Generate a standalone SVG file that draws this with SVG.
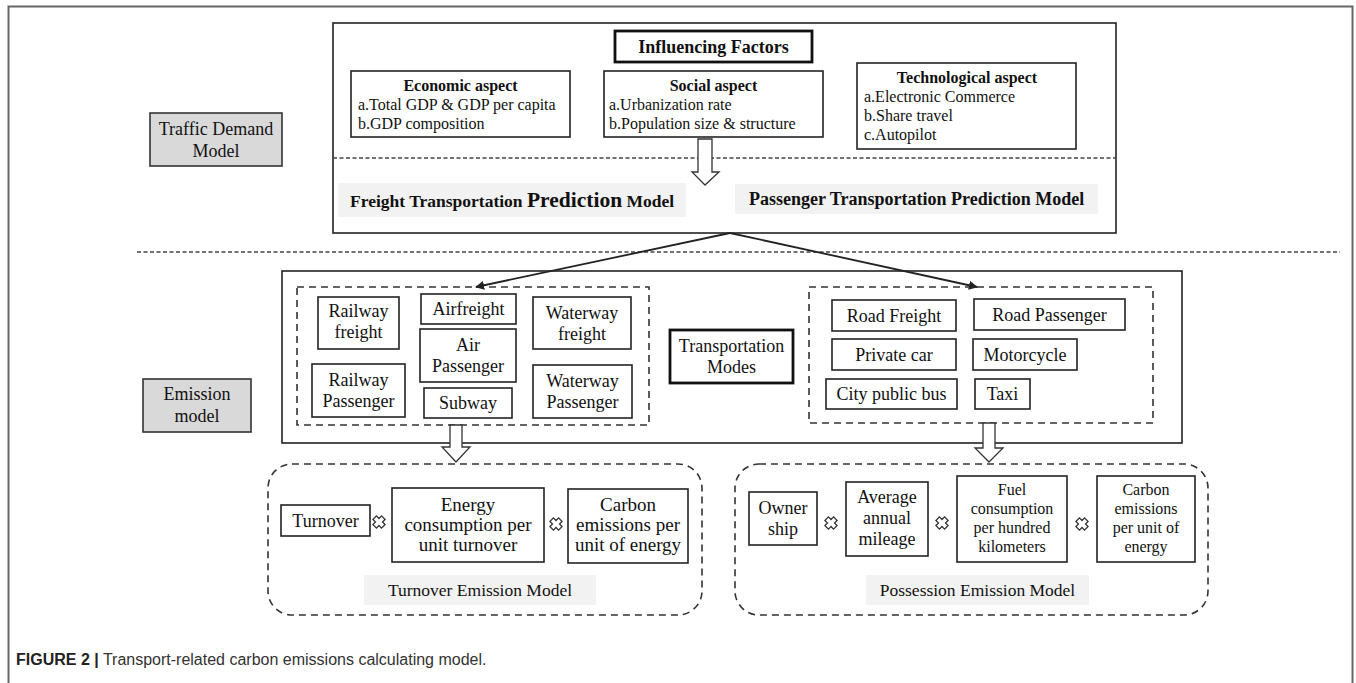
<svg xmlns="http://www.w3.org/2000/svg" width="1356" height="683" viewBox="0 0 1356 683">
<style>
.box{fill:#fff;stroke:#222;stroke-width:1.6}
.thick{fill:#fff;stroke:#111;stroke-width:2.8}
.gray{fill:#d9d9d9;stroke:#333;stroke-width:1.6}
.bg{fill:#f2f2f2;stroke:none}
.dash{fill:none;stroke:#333;stroke-width:1.6;stroke-dasharray:7 5}
.dline{fill:none;stroke:#444;stroke-width:1.4;stroke-dasharray:4 2.5}
.conn{fill:none;stroke:#222;stroke-width:1.8}
.hollow{fill:#fff;stroke:#333;stroke-width:1.3}
.mul{fill:none;stroke:#333;stroke-width:0.8}
.t{font-family:"Liberation Serif","Times New Roman",serif;fill:#111;font-size:18px}
.c{text-anchor:middle}
.b{font-weight:bold}
.s16{font-size:16px}
.s17{font-size:17.5px}
.s19{font-size:19px}
.cap{font-family:"Liberation Sans",Arial,sans-serif;font-size:16px;fill:#333}
</style>
<defs>
<marker id="ah" viewBox="0 0 10 10" refX="9" refY="5" markerWidth="5" markerHeight="5" orient="auto" markerUnits="strokeWidth">
<path d="M0,0 L10,5 L0,10 z" fill="#222"/>
</marker>
<path id="mulsym" class="mul" d="M-1.6,-3.8 L0,-2.2 L1.6,-3.8 L3.8,-1.6 L2.2,0 L3.8,1.6 L1.6,3.8 L0,2.2 L-1.6,3.8 L-3.8,1.6 L-2.2,0 L-3.8,-1.6 Z" transform="scale(1.6)"/>
</defs>

<g id="frame"><path d="M8.5,683 V6.5 H1352.5 V683" fill="none" stroke="#666" stroke-width="2"/></g>

<g id="traffic-demand-model">
<rect class="gray" x="150" y="113" width="132" height="53"/>
<text class="t c" x="216" y="135">Traffic Demand</text>
<text class="t c" x="216" y="157">Model</text>
</g>
<g id="emission-model">
<rect class="gray" x="143" y="379" width="108" height="53"/>
<text class="t c" x="197" y="400">Emission</text>
<text class="t c" x="197" y="422">model</text>
</g>

<g id="separator"><line class="dline" x1="137" y1="252" x2="1340" y2="252"/></g>

<g id="traffic-demand-box">
<rect class="box" x="333" y="23" width="783" height="210"/>
<line class="dline" x1="333" y1="158" x2="1116" y2="158"/>
</g>
<g id="influencing-factors">
<rect class="thick" x="615" y="31" width="197" height="31"/>
<text class="t c b" x="713.5" y="53">Influencing Factors</text>
</g>
<g id="economic-aspect">
<rect class="box" x="351" y="71" width="219" height="66"/>
<text class="t c b s16" x="460.5" y="91">Economic aspect</text>
<text class="t s16" x="358" y="110">a.Total GDP &amp; GDP per capita</text>
<text class="t s16" x="358" y="129">b.GDP composition</text>
</g>
<g id="social-aspect">
<rect class="box" x="604" y="71" width="219" height="66"/>
<text class="t c b s16" x="713.5" y="91">Social aspect</text>
<text class="t s16" x="609" y="110">a.Urbanization rate</text>
<text class="t s16" x="609" y="129">b.Population size &amp; structure</text>
</g>
<g id="technological-aspect">
<rect class="box" x="857" y="63" width="219" height="86"/>
<text class="t c b s16" x="967" y="83">Technological aspect</text>
<text class="t s16" x="864" y="102">a.Electronic Commerce</text>
<text class="t s16" x="864" y="121">b.Share travel</text>
<text class="t s16" x="864" y="140">c.Autopilot</text>
</g>
<g id="freight-prediction">
<rect class="bg" x="338" y="183" width="348" height="34"/>
<text class="t b" x="350" y="207" style="font-size:17.5px">Freight Transportation <tspan style="font-size:21.5px">Prediction</tspan> Model</text>
</g>
<g id="passenger-prediction">
<rect class="bg" x="735" y="184" width="363" height="30"/>
<text class="t b" x="749" y="205">Passenger Transportation Prediction Model</text>
</g>

<g id="emission-box"><rect class="box" x="282" y="271" width="900" height="172"/></g>

<g id="transportation-modes">
<rect class="thick" x="670" y="330" width="123" height="53"/>
<text class="t c" x="731.5" y="352">Transportation</text>
<text class="t c" x="731.5" y="373">Modes</text>
</g>

<g id="left-modes-group"><rect class="dash" x="297" y="287" width="352" height="138"/></g>
<g id="railway-freight"><rect class="box" x="318" y="297" width="81" height="52"/>
<text class="t c" x="358.5" y="317">Railway</text><text class="t c" x="358.5" y="338">freight</text></g>
<g id="airfreight"><rect class="box" x="421" y="294" width="95" height="30"/>
<text class="t c" x="468.5" y="315">Airfreight</text></g>
<g id="waterway-freight"><rect class="box" x="533" y="297" width="98" height="52"/>
<text class="t c" x="582" y="319">Waterway</text><text class="t c" x="582" y="340">freight</text></g>
<g id="air-passenger"><rect class="box" x="420" y="329" width="96" height="53"/>
<text class="t c" x="468" y="351">Air</text><text class="t c" x="468" y="372">Passenger</text></g>
<g id="railway-passenger"><rect class="box" x="312" y="364" width="93" height="53"/>
<text class="t c" x="358.5" y="386">Railway</text><text class="t c" x="358.5" y="407">Passenger</text></g>
<g id="subway"><rect class="box" x="424" y="388" width="88" height="30"/>
<text class="t c" x="468" y="409">Subway</text></g>
<g id="waterway-passenger"><rect class="box" x="533" y="365" width="99" height="53"/>
<text class="t c" x="582.5" y="387">Waterway</text><text class="t c" x="582.5" y="408">Passenger</text></g>

<g id="right-modes-group"><rect class="dash" x="809" y="287" width="344" height="136"/></g>
<g id="road-freight"><rect class="box" x="832" y="300" width="124" height="31"/>
<text class="t c" x="894" y="322">Road Freight</text></g>
<g id="road-passenger"><rect class="box" x="974" y="299" width="151" height="31"/>
<text class="t c" x="1049.5" y="321">Road Passenger</text></g>
<g id="private-car"><rect class="box" x="832" y="339" width="124" height="31"/>
<text class="t c" x="894" y="361">Private car</text></g>
<g id="motorcycle"><rect class="box" x="973" y="339" width="104" height="31"/>
<text class="t c" x="1025" y="361">Motorcycle</text></g>
<g id="city-public-bus"><rect class="box" x="826" y="379" width="131" height="30"/>
<text class="t c" x="891.5" y="400">City public bus</text></g>
<g id="taxi"><rect class="box" x="975" y="379" width="55" height="30"/>
<text class="t c" x="1002.5" y="400">Taxi</text></g>

<g id="turnover-emission-model">
<rect class="dash" x="268" y="464" width="434" height="151" rx="24"/>
<rect class="bg" x="364" y="575" width="232" height="30"/>
<text class="t c s17" x="480" y="596">Turnover Emission Model</text>
</g>
<g id="turnover"><rect class="box" x="281" y="505" width="89" height="31"/>
<text class="t c" x="325.5" y="527">Turnover</text></g>
<g id="energy-consumption"><rect class="box" x="392" y="488" width="152" height="74"/>
<text class="t c s19" x="468" y="511">Energy</text>
<text class="t c s19" x="468" y="531">consumption per</text>
<text class="t c s19" x="468" y="551">unit turnover</text></g>
<g id="carbon-emissions-1"><rect class="box" x="568" y="489" width="120" height="74"/>
<text class="t c s19" x="628" y="511">Carbon</text>
<text class="t c s19" x="628" y="531">emissions per</text>
<text class="t c s19" x="628" y="551">unit of energy</text></g>

<g id="possession-emission-model">
<rect class="dash" x="735" y="464" width="473" height="151" rx="24"/>
<rect class="bg" x="866" y="575" width="223" height="30"/>
<text class="t c s17" x="977.5" y="596">Possession Emission Model</text>
</g>
<g id="ownership"><rect class="box" x="749" y="492" width="68" height="53"/>
<text class="t c" x="783" y="514">Owner</text><text class="t c" x="783" y="535">ship</text></g>
<g id="average-annual-mileage"><rect class="box" x="846" y="482" width="82" height="74"/>
<text class="t c" x="887" y="503">Average</text>
<text class="t c" x="887" y="524">annual</text>
<text class="t c" x="887" y="545">mileage</text></g>
<g id="fuel-consumption"><rect class="box" x="957" y="476" width="110" height="86"/>
<text class="t c s16" x="1012" y="495">Fuel</text>
<text class="t c s16" x="1012" y="514">consumption</text>
<text class="t c s16" x="1012" y="533">per hundred</text>
<text class="t c s16" x="1012" y="552">kilometers</text></g>
<g id="carbon-emissions-2"><rect class="box" x="1097" y="476" width="98" height="86"/>
<text class="t c s16" x="1146" y="495">Carbon</text>
<text class="t c s16" x="1146" y="514">emissions</text>
<text class="t c s16" x="1146" y="533">per unit of</text>
<text class="t c s16" x="1146" y="552">energy</text></g>

<g id="connectors">
<line class="conn" x1="730" y1="233" x2="476" y2="287" marker-end="url(#ah)"/>
<line class="conn" x1="730" y1="233" x2="977" y2="287" marker-end="url(#ah)"/>
<path class="hollow" d="M698,139 V172 H692 L705,185 L719,172 H712 V139 Z"/>
<path class="hollow" d="M450,425 V447 H442 L456,462 L470,447 H462 V425 Z"/>
<path class="hollow" d="M983,423 V448 H975 L989,462 L1003,448 H995 V423 Z"/>
<use href="#mulsym" x="379" y="522"/>
<use href="#mulsym" x="556" y="524"/>
<use href="#mulsym" x="831" y="523"/>
<use href="#mulsym" x="942" y="523"/>
<use href="#mulsym" x="1082" y="524"/>
</g>

<g id="caption">
<text class="cap" x="16" y="665"><tspan font-weight="bold" fill="#222">FIGURE 2 |</tspan> Transport-related carbon emissions calculating model.</text>
</g>
</svg>
